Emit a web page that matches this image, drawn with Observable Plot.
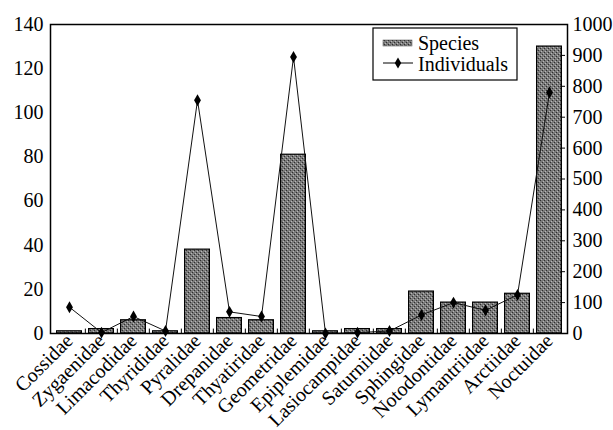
<!DOCTYPE html>
<html>
<head>
<meta charset="utf-8">
<script src="https://cdn.jsdelivr.net/npm/d3@7"></script>
<script src="https://cdn.jsdelivr.net/npm/@observablehq/plot@0.6"></script>
<style>
  html, body { margin: 0; padding: 0; background: white; }
  #chart { position: relative; width: 613px; height: 430px; }
  #chart svg, #chart svg text { font-family: "Liberation Serif", "Times New Roman", Times, "DejaVu Serif", serif !important; }
</style>
</head>
<body>
<div id="chart"></div>
<script>
const families = ["Cossidae","Zygaenidae","Limacodidae","Thyrididae","Pyralidae","Drepanidae","Thyatiridae","Geometridae","Epiplemidae","Lasiocampidae","Saturniidae","Sphingidae","Notodontidae","Lymantriidae","Arctiidae","Noctuidae"];
const species = [1, 2, 6, 1, 38, 7, 6, 81, 1, 2, 2, 19, 14, 14, 18, 130];
const individuals = [85, 3, 55, 8, 755, 70, 55, 895, 0, 3, 8, 60, 100, 75, 125, 780];
const leftTicks = [0, 20, 40, 60, 80, 100, 120, 140];
const rightTicks = [0, 100, 200, 300, 400, 500, 600, 700, 800, 900, 1000];
const ratio = 140 / 1000;

const rows = families.map((f, i) => ({family: f, species: species[i], individuals: individuals[i]}));

const W = 613, H = 430, mL = 50, mR = 46, mT = 24, mB = 97;
const step = (W - mL - mR) / families.length;

const chart = Plot.plot({
  width: W, height: H,
  marginLeft: mL, marginRight: mR, marginTop: mT, marginBottom: mB,
  style: {fontFamily: '"Liberation Serif", "Times New Roman", serif', fontSize: "19px", background: "white", color: "black"},
  x: {type: "band", domain: families, padding: 0, label: null},
  y: {domain: [0, 140], label: null},
  marks: [
    Plot.barY(rows, {x: "family", y: "species", fill: "url(#halftone)", stroke: "black", strokeWidth: 1.2, insetLeft: 3.6, insetRight: 3.6}),
    Plot.line(rows, {x: "family", y: d => d.individuals * ratio, stroke: "#111", strokeWidth: 1}),
    Plot.dot(rows, {x: "family", y: d => d.individuals * ratio, symbol: "diamond", r: 3.6, fill: "black", stroke: "none"}),
    Plot.ruleX(families.slice(1), {x: d => d, dx: -step / 2, y1: 0, y2: 2, stroke: "black", strokeWidth: 1}),
    Plot.tickY(rightTicks, {y: d => d * ratio, x: () => "Noctuidae", insetLeft: step - 5, stroke: "black", strokeWidth: 1}),
    Plot.axisY(leftTicks, {anchor: "left", tickSize: 0, tickPadding: 7, fontSize: 20, label: null}),
    Plot.axisY(rightTicks.map(v => v * ratio), {anchor: "right", tickSize: 0, tickPadding: 5, fontSize: 20, label: null, tickFormat: d => String(Math.round(d / ratio))}),
    Plot.axisX({tickRotate: -45, tickSize: 0, tickPadding: 4, fontSize: 20, label: null}),
    Plot.frame({stroke: "black", strokeWidth: 1.5})
  ]
});

const svg = d3.select(chart);
const defs = svg.insert("defs", ":first-child");
const pat = defs.append("pattern").attr("id", "halftone").attr("patternUnits", "userSpaceOnUse").attr("width", 4).attr("height", 4);
pat.append("rect").attr("width", 4).attr("height", 4).attr("fill", "#7a7a7a");
pat.append("rect").attr("x", 0).attr("y", 0).attr("width", 1).attr("height", 1).attr("fill", "#2e2e2e");
pat.append("rect").attr("x", 2).attr("y", 2).attr("width", 1).attr("height", 1).attr("fill", "#2e2e2e");
pat.append("rect").attr("x", 1).attr("y", 3).attr("width", 1).attr("height", 1).attr("fill", "#b8b8b8");
pat.append("rect").attr("x", 3).attr("y", 1).attr("width", 1).attr("height", 1).attr("fill", "#b8b8b8");

// legend inside plot area
const lg = svg.append("g").attr("font-size", 20).attr("text-anchor", "start");
lg.append("rect").attr("x", 373).attr("y", 28).attr("width", 144).attr("height", 52).attr("fill", "white").attr("stroke", "black").attr("stroke-width", 1.2);
lg.append("rect").attr("x", 383).attr("y", 40).attr("width", 29).attr("height", 6).attr("fill", "url(#halftone)").attr("stroke", "#444").attr("stroke-width", 0.5);
lg.append("text").attr("x", 418).attr("y", 50).text("Species");
lg.append("line").attr("x1", 383).attr("x2", 413).attr("y1", 63).attr("y2", 63).attr("stroke", "black").attr("stroke-width", 1);
lg.append("path").attr("d", d3.symbol(d3.symbolDiamond, 36)()).attr("transform", "translate(398,63)").attr("fill", "black");
lg.append("text").attr("x", 418).attr("y", 71).text("Individuals");

document.getElementById("chart").appendChild(chart);
</script>
</body>
</html>
